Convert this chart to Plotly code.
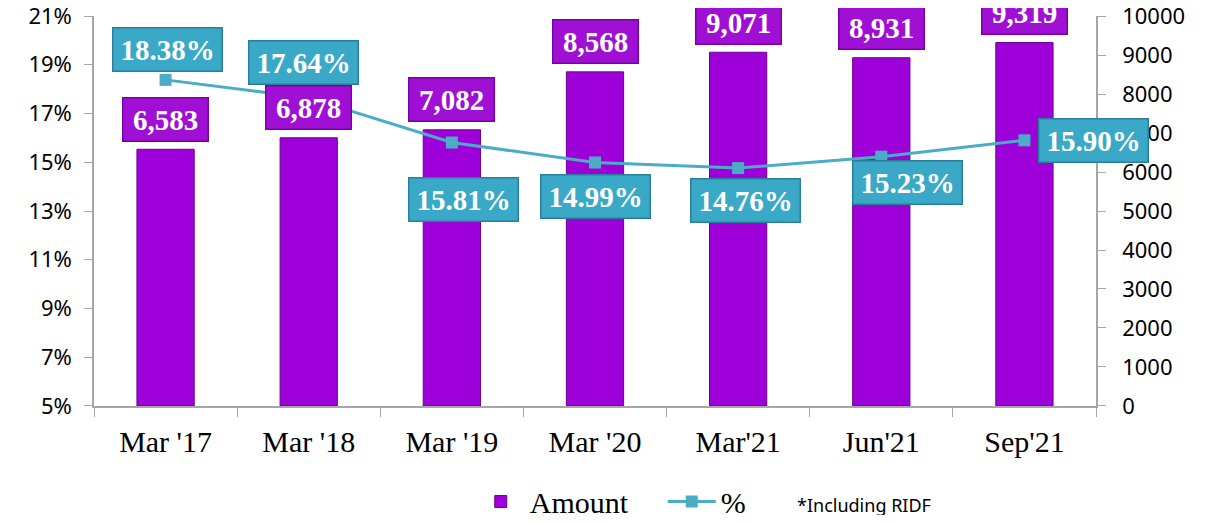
import plotly.graph_objects as go

categories = ["Mar '17", "Mar '18", "Mar '19", "Mar '20", "Mar'21", "Jun'21", "Sep'21"]
amount = [6583, 6878, 7082, 8568, 9071, 8931, 9319]
pct = [18.38, 17.64, 15.81, 14.99, 14.76, 15.23, 15.90]
amount_labels = ["6,583", "6,878", "7,082", "8,568", "9,071", "8,931", "9,319"]
pct_labels = ["18.38%", "17.64%", "15.81%", "14.99%", "14.76%", "15.23%", "15.90%"]
pct_ticks = [5, 7, 9, 11, 13, 15, 17, 19, 21]
pct_tick_text = ["5%", "7%", "9%", "11%", "13%", "15%", "17%", "19%", "21%"]
amount_ticks = [0, 1000, 2000, 3000, 4000, 5000, 6000, 7000, 8000, 9000, 10000]
amount_tick_text = ["0", "1000", "2000", "3000", "4000", "5000", "6000", "7000", "8000", "9000", "10000"]

# label offsets in pixels (style only)
pct_offsets = [(2, 30), (-5, 35), (12, -57), (0, -34), (7, -32), (26, -26), (69, 0)]

PURPLE = "#9d00d8"
CYAN = "#4bacc6"
SERIF = "Liberation Serif"
SANS = "Noto Sans"

fig = go.Figure()
fig.add_trace(go.Bar(
    x=categories, y=amount, name="Amount", yaxis="y", width=0.4,
    marker=dict(color=PURPLE, line=dict(color="#6a0090", width=1)),
))
fig.add_trace(go.Scatter(
    x=categories, y=pct, name="%", yaxis="y2", mode="lines+markers",
    line=dict(color=CYAN, width=3),
    marker=dict(symbol="square", size=12, color=CYAN),
))

annotations = []
for c, v, t in zip(categories, amount, amount_labels):
    annotations.append(dict(
        x=c, y=v, xref="x", yref="y", text="<b>%s</b>" % t, showarrow=False,
        yanchor="middle", yshift=30, width=82, height=40,
        bgcolor="#a010d4", bordercolor="#7a00a8", borderwidth=1.5, borderpad=1,
        font=dict(family=SERIF, size=29, color="white"),
    ))
for c, v, t, (dx, dy) in zip(categories, pct, pct_labels, pct_offsets):
    annotations.append(dict(
        x=c, y=v, xref="x", yref="y2", text="<b>%s</b>" % t, showarrow=False,
        yanchor="middle", xshift=dx, yshift=dy, width=106, height=40,
        bgcolor="#3aa9c8", bordercolor="#2a7f9a", borderwidth=1.5, borderpad=1,
        font=dict(family=SERIF, size=29, color="white"),
    ))
annotations.append(dict(
    x=0.70, y=-0.254, xref="paper", yref="paper", text="*Including RIDF",
    showarrow=False, xanchor="left", yanchor="middle",
    font=dict(family=SANS, size=18, color="black"),
))

fig.update_layout(
    width=1200, height=507,
    margin=dict(l=86, r=112, t=8, b=109, autoexpand=False),
    paper_bgcolor="white", plot_bgcolor="white",
    showlegend=True,
    legend=dict(orientation="h", x=0.377, xanchor="left", y=-0.245, yanchor="middle",
                font=dict(family=SERIF, size=30, color="black"), itemwidth=48,
                entrywidth=128, entrywidthmode="pixels"),
    xaxis=dict(
        type="category", range=[-0.5, 6.5], showline=True, linecolor="#a6a6a6", linewidth=1.5,
        ticks="outside", tickson="boundaries", ticklen=9, tickcolor="#a6a6a6",
        tickfont=dict(family=SERIF, size=30, color="black"), showgrid=False,
        automargin=False, ticklabelstandoff=8,
    ),
    yaxis=dict(
        side="right", range=[-0.5, 10000.5], tickvals=amount_ticks, ticktext=amount_tick_text,
        showline=True,
        linecolor="#a6a6a6", linewidth=1.5, ticks="outside", ticklen=8, tickcolor="#a6a6a6",
        tickfont=dict(family=SANS, size=22, color="black"), showgrid=False, zeroline=False,
        ticklabelstandoff=12, automargin=False, ticklabeloverflow="allow",
    ),
    yaxis2=dict(
        side="left", overlaying="y", range=[4.9995, 21.0005], tickvals=pct_ticks,
        ticktext=pct_tick_text,
        showline=True, linecolor="#a6a6a6", linewidth=1.5, ticks="outside", ticklen=8,
        tickcolor="#a6a6a6", tickfont=dict(family=SANS, size=22, color="black"),
        showgrid=False, zeroline=False, ticklabelstandoff=8, automargin=False,
        ticklabeloverflow="allow",
    ),
    annotations=annotations,
)

fig.write_html("out.html")
